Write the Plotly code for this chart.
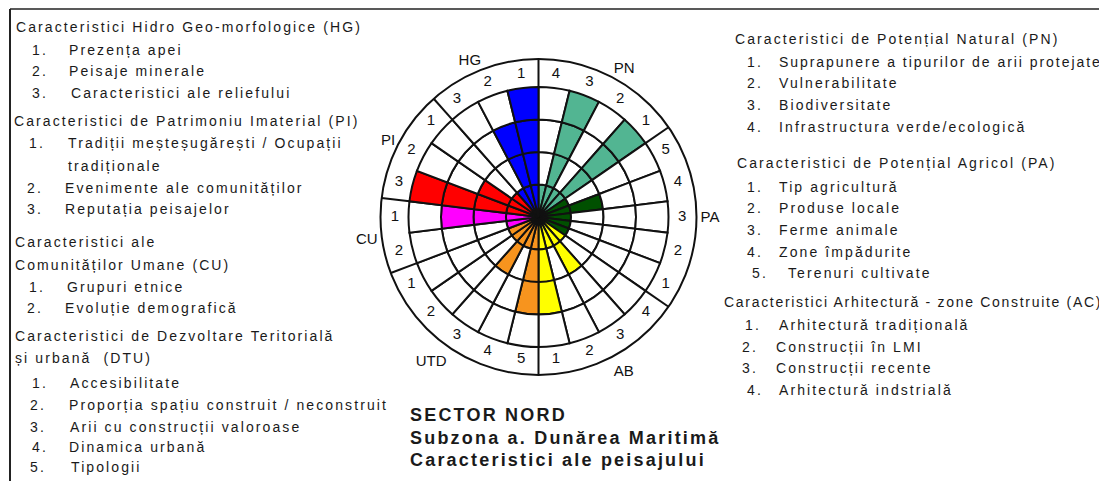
import plotly.graph_objects as go

# ---------------- data ----------------
groups = ["PN", "PA", "AB", "UTD", "CU", "PI", "HG"]
group_sizes = [4, 5, 4, 5, 2, 3, 3]
group_colors = ["#52B592", "#005000", "#FFFF00", "#F7941E", "#FF00FF", "#FF0000", "#0000FF"]

# sectors clockwise from the top
sector_labels = ["4", "3", "2", "1",
                 "5", "4", "3", "2", "1",
                 "4", "3", "2", "1",
                 "5", "4", "3", "2", "1",
                 "2", "1",
                 "3", "2", "1",
                 "3", "2", "1"]
sector_values = [1, 4, 1, 4,
                 1, 2, 1, 1, 1,
                 1, 2, 1, 3,
                 3, 1, 2, 1, 1,
                 1, 3,
                 4, 2, 1,
                 1, 3, 4]
max_level = 4

left_text = [
    ("Caracteristici Hidro Geo-morfologice (HG)", 14, 27),
    ("1.", 30, 50), ("Prezența apei", 67, 50),
    ("2.", 30, 71), ("Peisaje minerale", 67, 71),
    ("3.", 30, 93), ("Caracteristici ale reliefului", 69, 93),
    ("Caracteristici de Patrimoniu Imaterial (PI)", 12, 121),
    ("1.", 27, 143), ("Tradiții meșteșugărești / Ocupații", 66, 143),
    ("tradiționale", 66, 166),
    ("2.", 25, 188), ("Evenimente ale comunităților", 63, 188),
    ("3.", 25, 209), ("Reputația peisajelor", 63, 209),
    ("Caracteristici ale", 13, 242),
    ("Comunităților Umane (CU)", 13, 265),
    ("1.", 27, 287), ("Grupuri etnice", 65, 287),
    ("2.", 25, 308), ("Evoluție demografică", 63, 308),
    ("Caracteristici de Dezvoltare Teritorială", 13, 336),
    ("și urbană  (DTU)", 13, 358),
    ("1.", 30, 383), ("Accesibilitate", 68, 383),
    ("2.", 28, 405), ("Proporția spațiu construit / neconstruit", 67, 405),
    ("3.", 28, 427), ("Arii cu construcții valoroase", 68, 427),
    ("4.", 30, 447), ("Dinamica urbană", 67, 447),
    ("5.", 28, 467), ("Tipologii", 69, 467),
]
right_text = [
    ("Caracteristici de Potențial Natural (PN)", 733, 39),
    ("1.", 745, 62), ("Suprapunere a tipurilor de arii protejate", 777, 62),
    ("2.", 745, 83), ("Vulnerabilitate", 777, 83),
    ("3.", 745, 105), ("Biodiversitate", 777, 105),
    ("4.", 745, 127), ("Infrastructura verde/ecologică", 777, 127),
    ("Caracteristici de Potențial Agricol (PA)", 735, 163),
    ("1.", 745, 187), ("Tip agricultură", 777, 187),
    ("2.", 745, 208), ("Produse locale", 777, 208),
    ("3.", 745, 230), ("Ferme animale", 777, 230),
    ("4.", 745, 252), ("Zone împădurite", 777, 252),
    ("5.", 750, 273), ("Terenuri cultivate", 786, 273),
    ("Caracteristici Arhitectură - zone Construite (AC)", 722, 302),
    ("1.", 743, 325), ("Arhitectură tradițională", 777, 325),
    ("2.", 740, 347), ("Construcții în LMI", 774, 347),
    ("3.", 740, 368), ("Construcții recente", 774, 368),
    ("4.", 745, 390), ("Arhitectură indstrială", 777, 390),
]
title_lines = ["SECTOR NORD", "Subzona a. Dunărea Maritimă", "Caracteristici ale peisajului"]

# ---------------- geometry ----------------
OFF = 8  # page body margin
W, H = 1107 - OFF, 481 - OFF


def px(x):
    return (x - OFF) / W


def py(y):
    return 1 - (y - OFF) / H


n = len(sector_values)
step = 360.0 / n
centers = [(k + 0.5) * step for k in range(n)]
sector_color = []
for g, s, c in zip(groups, group_sizes, group_colors):
    sector_color += [c] * s

cx, cy, R = 538.5, 217.0, 158.0
r4_px = 130.0
rmax = max_level * R / r4_px

fig = go.Figure()

for lvl in range(max_level):
    cols = [c if v > lvl else "white" for c, v in zip(sector_color, sector_values)]
    fig.add_trace(go.Barpolar(
        r=[1] * n, base=[lvl] * n, theta=centers, width=[step] * n,
        marker=dict(color=cols, line=dict(color="#111111", width=2)),
        hoverinfo="skip", showlegend=False))

# separators in the label band
bounds = [0]
acc = 0
for s in group_sizes[:-1]:
    acc += s
    bounds.append(acc * step)
for b in bounds:
    fig.add_trace(go.Scatterpolar(
        r=[max_level, rmax], theta=[b, b], mode="lines",
        line=dict(color="#111111", width=2),
        hoverinfo="skip", showlegend=False))

# sector numbers
fig.add_trace(go.Scatterpolar(
    r=[max_level + 0.42] * n, theta=centers, mode="text", text=sector_labels,
    textfont=dict(family="Liberation Sans", size=15, color="#111111"),
    hoverinfo="skip", showlegend=False))

# group label positions
gcent = []
acc = 0
for s in group_sizes:
    gcent.append((acc + s / 2) * step)
    acc += s

fig.update_layout(
    width=W, height=H,
    margin=dict(l=0, r=0, t=0, b=0),
    paper_bgcolor="white",
    showlegend=False,
    polar=dict(
        domain=dict(x=[px(cx - R), px(cx + R)],
                    y=[py(cy + R), py(cy - R)]),
        bgcolor="white",
        bargap=0,
        radialaxis=dict(range=[0, rmax], showgrid=False, showticklabels=False,
                        showline=False, ticks=""),
        angularaxis=dict(direction="clockwise", rotation=90,
                         tickmode="array", tickvals=gcent, ticktext=groups,
                         showgrid=False, ticks="", showline=True,
                         linecolor="#111111", linewidth=2,
                         tickfont=dict(family="Liberation Sans", size=15, color="#111111")),
    ),
)


def sp(t, s):
    return '<span style="letter-spacing:%.2fpx">' % s + t + '</span>'


tight = {"Caracteristici Arhitectură - zone Construite (AC)": 1.7,
         "Suprapunere a tipurilor de arii protejate": 1.95}

ann = []
for t, x, y in left_text + right_text:
    ann.append(dict(text=sp(t, tight.get(t, 2.1)), x=px(x), y=py(y), xref="paper", yref="paper",
                    xanchor="left", yanchor="middle", showarrow=False,
                    font=dict(family="Liberation Sans", size=14, color="#1a1a1a")))
for i, t in enumerate(title_lines):
    ann.append(dict(text="<b>" + sp(t, 2.2) + "</b>",
                    x=px(408), y=py(415 + 22.5 * i), xref="paper", yref="paper",
                    xanchor="left", yanchor="middle", showarrow=False,
                    font=dict(family="Liberation Sans", size=18, color="#1a1a1a")))
fig.update_layout(annotations=ann)

fig.update_layout(shapes=[
    dict(type="line", xref="paper", yref="paper", x0=px(10), x1=1, y0=py(9), y1=py(9),
         line=dict(color="#222222", width=1.5)),
    dict(type="line", xref="paper", yref="paper", x0=px(10), x1=px(10), y0=0, y1=py(9),
         line=dict(color="#222222", width=2)),
])

fig.write_html("out.html")
